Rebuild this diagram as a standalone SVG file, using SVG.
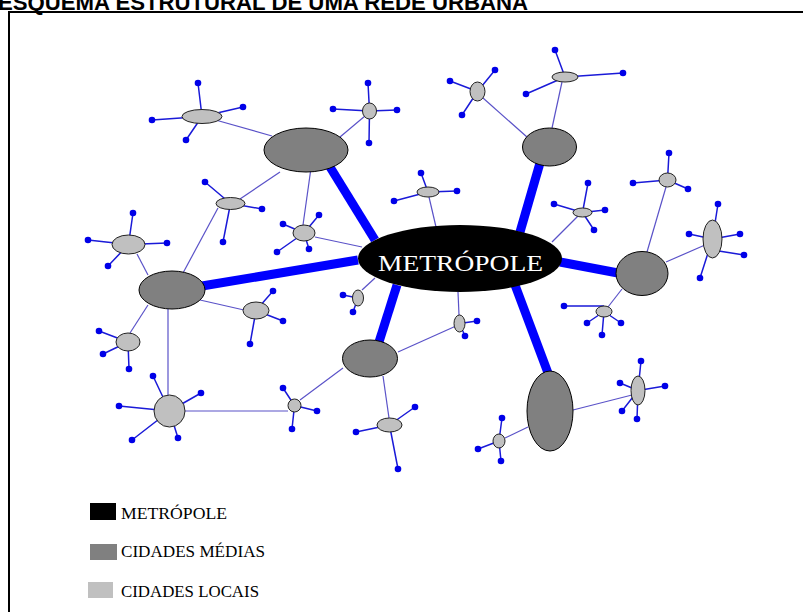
<svg xmlns="http://www.w3.org/2000/svg" width="803" height="612" viewBox="0 0 803 612">
<style>
.thick{stroke:#0000ff;stroke-width:9;fill:none}
.thin{stroke:#5a52c8;stroke-width:1.2;fill:none}
.sp{stroke:#1a1ad8;stroke-width:1.5;fill:none}
.dot{fill:#0000e8}
.med{fill:#808080;stroke:#000;stroke-width:1}
.loc{fill:#c0c0c0;stroke:#222;stroke-width:1}
.lg{font-family:"Liberation Serif","Times New Roman",serif;font-size:17px;fill:#000}
</style>
<rect width="803" height="612" fill="#fff"/>
<text x="-2" y="10" font-family="Liberation Sans, Arial, sans-serif" font-weight="bold" font-size="22" textLength="530" lengthAdjust="spacingAndGlyphs">ESQUEMA ESTRUTURAL DE UMA REDE URBANA</text>
<path d="M9,612 V12 H803" fill="none" stroke="#000" stroke-width="2"/>
<g id="connectors">
<line class="thick" x1="375" y1="240" x2="330" y2="167"/>
<line class="thick" x1="358" y1="260" x2="202" y2="286"/>
<line class="thick" x1="520" y1="232" x2="540" y2="163"/>
<line class="thick" x1="560" y1="262" x2="618" y2="273"/>
<line class="thick" x1="397" y1="285" x2="379" y2="342"/>
<line class="thick" x1="515" y1="285" x2="548" y2="373"/>
<line class="thin" x1="212" y1="119" x2="272" y2="136"/>
<line class="thin" x1="365" y1="116" x2="340" y2="137"/>
<line class="thin" x1="483" y1="98" x2="527" y2="137"/>
<line class="thin" x1="562" y1="82" x2="552" y2="128"/>
<line class="thin" x1="429" y1="197" x2="436" y2="227"/>
<line class="thin" x1="578" y1="216" x2="552" y2="242"/>
<line class="thin" x1="666" y1="187" x2="647" y2="252"/>
<line class="thin" x1="705" y1="245" x2="666" y2="262"/>
<line class="thin" x1="608" y1="307" x2="622" y2="289"/>
<line class="thin" x1="632" y1="395" x2="573" y2="410"/>
<line class="thin" x1="505" y1="438" x2="528" y2="427"/>
<line class="thin" x1="389" y1="418" x2="383" y2="376"/>
<line class="thin" x1="459" y1="315" x2="458" y2="292"/>
<line class="thin" x1="456" y1="326" x2="398" y2="352"/>
<line class="thin" x1="362" y1="290" x2="375" y2="278"/>
<line class="thin" x1="303" y1="225" x2="311" y2="168"/>
<line class="thin" x1="315" y1="237" x2="362" y2="247"/>
<line class="thin" x1="240" y1="199" x2="280" y2="172"/>
<line class="thin" x1="218" y1="208" x2="183" y2="273"/>
<line class="thin" x1="137" y1="254" x2="148" y2="275"/>
<line class="thin" x1="244" y1="310" x2="200" y2="300"/>
<line class="thin" x1="130" y1="333" x2="148" y2="305"/>
<line class="thin" x1="168" y1="395" x2="168" y2="309"/>
<line class="thin" x1="185" y1="411" x2="288" y2="411"/>
<line class="thin" x1="300" y1="400" x2="343" y2="368"/>
</g>
<g id="metropole">
<ellipse cx="460" cy="258.5" rx="102" ry="33.5" fill="#000"/>
<text x="378" y="271" font-family="Liberation Serif, Times New Roman, serif" font-size="24" fill="#fff" textLength="165" lengthAdjust="spacingAndGlyphs">METRÓPOLE</text>
</g>
<g id="media-a"><ellipse class="med" cx="306" cy="150" rx="42" ry="22"/></g>
<g id="media-b"><ellipse class="med" cx="549.5" cy="147" rx="27" ry="19"/></g>
<g id="media-c"><ellipse class="med" cx="642" cy="273.5" rx="26" ry="22"/></g>
<g id="media-d"><ellipse class="med" cx="172" cy="290" rx="33" ry="19"/></g>
<g id="media-e"><ellipse class="med" cx="370" cy="358.5" rx="27.5" ry="18.5"/></g>
<g id="media-f"><ellipse class="med" cx="550" cy="411" rx="23" ry="40"/></g>
<g id="local-1"><path class="sp" d="M202,116.5L198,83M202,116.5L243,107M202,116.5L152,120M202,116.5L186,140"/><ellipse class="loc" cx="202" cy="116.5" rx="20" ry="7"/><circle class="dot" cx="198" cy="83" r="3.3"/><circle class="dot" cx="243" cy="107" r="3.3"/><circle class="dot" cx="152" cy="120" r="3.3"/><circle class="dot" cx="186" cy="140" r="3.3"/></g>
<g id="local-2"><path class="sp" d="M369.5,111L368,83M369.5,111L397,110M369.5,111L369,143M369.5,111L333,109"/><ellipse class="loc" cx="369.5" cy="111" rx="7" ry="8"/><circle class="dot" cx="368" cy="83" r="3.3"/><circle class="dot" cx="397" cy="110" r="3.3"/><circle class="dot" cx="369" cy="143" r="3.3"/><circle class="dot" cx="333" cy="109" r="3.3"/></g>
<g id="local-3"><path class="sp" d="M477.5,91.5L450,81M477.5,91.5L495,70M477.5,91.5L462,115"/><ellipse class="loc" cx="477.5" cy="91.5" rx="7.5" ry="9.5"/><circle class="dot" cx="450" cy="81" r="3.3"/><circle class="dot" cx="495" cy="70" r="3.3"/><circle class="dot" cx="462" cy="115" r="3.3"/></g>
<g id="local-4"><path class="sp" d="M565,77L555,50M565,77L623,73M565,77L526,94"/><ellipse class="loc" cx="565" cy="77" rx="13" ry="5"/><circle class="dot" cx="555" cy="50" r="3.3"/><circle class="dot" cx="623" cy="73" r="3.3"/><circle class="dot" cx="526" cy="94" r="3.3"/></g>
<g id="local-5"><path class="sp" d="M428,192L421,173M428,192L457,191M428,192L394,201"/><ellipse class="loc" cx="428" cy="192" rx="11" ry="5"/><circle class="dot" cx="421" cy="173" r="3.3"/><circle class="dot" cx="457" cy="191" r="3.3"/><circle class="dot" cx="394" cy="201" r="3.3"/></g>
<g id="local-6"><path class="sp" d="M582.5,212.5L588,183M582.5,212.5L605,210M582.5,212.5L554,204M582.5,212.5L594,230"/><ellipse class="loc" cx="582.5" cy="212.5" rx="9.5" ry="4.5"/><circle class="dot" cx="588" cy="183" r="3.3"/><circle class="dot" cx="605" cy="210" r="3.3"/><circle class="dot" cx="554" cy="204" r="3.3"/><circle class="dot" cx="594" cy="230" r="3.3"/></g>
<g id="local-7"><path class="sp" d="M667.5,180L669,153M667.5,180L633,183M667.5,180L688,189"/><ellipse class="loc" cx="667.5" cy="180" rx="8.5" ry="7"/><circle class="dot" cx="669" cy="153" r="3.3"/><circle class="dot" cx="633" cy="183" r="3.3"/><circle class="dot" cx="688" cy="189" r="3.3"/></g>
<g id="local-8"><path class="sp" d="M712.5,239L718,204M712.5,239L689,234M712.5,239L740,234M712.5,250L744,255M712.5,239L700,278"/><ellipse class="loc" cx="712.5" cy="239" rx="9.5" ry="19"/><circle class="dot" cx="718" cy="204" r="3.3"/><circle class="dot" cx="689" cy="234" r="3.3"/><circle class="dot" cx="740" cy="234" r="3.3"/><circle class="dot" cx="744" cy="255" r="3.3"/><circle class="dot" cx="700" cy="278" r="3.3"/></g>
<g id="local-9"><path class="sp" d="M604,306L564,306M604,311.5L587,323M604,311.5L602,335M604,311.5L621,323"/><ellipse class="loc" cx="604" cy="311.5" rx="8" ry="5.5"/><circle class="dot" cx="564" cy="306" r="3.3"/><circle class="dot" cx="587" cy="323" r="3.3"/><circle class="dot" cx="602" cy="335" r="3.3"/><circle class="dot" cx="621" cy="323" r="3.3"/></g>
<g id="local-10"><path class="sp" d="M638,390.5L641,361M638,390.5L620,383M638,390.5L665,386M638,390.5L622,411M638,390.5L637,419"/><ellipse class="loc" cx="638" cy="390.5" rx="7" ry="14.5"/><circle class="dot" cx="641" cy="361" r="3.3"/><circle class="dot" cx="620" cy="383" r="3.3"/><circle class="dot" cx="665" cy="386" r="3.3"/><circle class="dot" cx="622" cy="411" r="3.3"/><circle class="dot" cx="637" cy="419" r="3.3"/></g>
<g id="local-11"><path class="sp" d="M499,441L502,418M499,441L478,449M499,441L501,461"/><ellipse class="loc" cx="499" cy="441" rx="6" ry="7"/><circle class="dot" cx="502" cy="418" r="3.3"/><circle class="dot" cx="478" cy="449" r="3.3"/><circle class="dot" cx="501" cy="461" r="3.3"/></g>
<g id="local-12"><path class="sp" d="M389.5,425L415,407M389.5,425L356,432M389.5,425L398,469"/><ellipse class="loc" cx="389.5" cy="425" rx="12.5" ry="7"/><circle class="dot" cx="415" cy="407" r="3.3"/><circle class="dot" cx="356" cy="432" r="3.3"/><circle class="dot" cx="398" cy="469" r="3.3"/></g>
<g id="local-13"><path class="sp" d="M459.5,323.5L477,321M459.5,323.5L465,336"/><ellipse class="loc" cx="459.5" cy="323.5" rx="5.5" ry="8.5"/><circle class="dot" cx="477" cy="321" r="3.3"/><circle class="dot" cx="465" cy="336" r="3.3"/></g>
<g id="local-14"><path class="sp" d="M358,298L343,295M358,298L353,312"/><ellipse class="loc" cx="358" cy="298" rx="5.5" ry="8"/><circle class="dot" cx="343" cy="295" r="3.3"/><circle class="dot" cx="353" cy="312" r="3.3"/></g>
<g id="local-15"><path class="sp" d="M304,233L283,224M304,233L319,215M304,233L277,252M304,233L309,249"/><ellipse class="loc" cx="304" cy="233" rx="11" ry="8"/><circle class="dot" cx="283" cy="224" r="3.3"/><circle class="dot" cx="319" cy="215" r="3.3"/><circle class="dot" cx="277" cy="252" r="3.3"/><circle class="dot" cx="309" cy="249" r="3.3"/></g>
<g id="local-16"><path class="sp" d="M230.5,203.5L205,182M230.5,203.5L262,209M230.5,203.5L223,242"/><ellipse class="loc" cx="230.5" cy="203.5" rx="14.5" ry="6"/><circle class="dot" cx="205" cy="182" r="3.3"/><circle class="dot" cx="262" cy="209" r="3.3"/><circle class="dot" cx="223" cy="242" r="3.3"/></g>
<g id="local-17"><path class="sp" d="M128.5,244.5L133,213M128.5,244.5L88,240M128.5,244.5L167,243M128.5,244.5L108,266"/><ellipse class="loc" cx="128.5" cy="244.5" rx="16.5" ry="9.5"/><circle class="dot" cx="133" cy="213" r="3.3"/><circle class="dot" cx="88" cy="240" r="3.3"/><circle class="dot" cx="167" cy="243" r="3.3"/><circle class="dot" cx="108" cy="266" r="3.3"/></g>
<g id="local-18"><path class="sp" d="M256,310.5L273,291M256,310.5L283,321M256,310.5L250,344"/><ellipse class="loc" cx="256" cy="310.5" rx="13" ry="8.5"/><circle class="dot" cx="273" cy="291" r="3.3"/><circle class="dot" cx="283" cy="321" r="3.3"/><circle class="dot" cx="250" cy="344" r="3.3"/></g>
<g id="local-19"><path class="sp" d="M128,342L99,331M128,342L103,354M128,342L129,369"/><ellipse class="loc" cx="128" cy="342" rx="12" ry="9"/><circle class="dot" cx="99" cy="331" r="3.3"/><circle class="dot" cx="103" cy="354" r="3.3"/><circle class="dot" cx="129" cy="369" r="3.3"/></g>
<g id="local-20"><path class="sp" d="M169.5,411L153,376M169.5,411L119,406M169.5,411L201,393M169.5,411L132,440M169.5,411L178,438"/><ellipse class="loc" cx="169.5" cy="411" rx="15.5" ry="16"/><circle class="dot" cx="153" cy="376" r="3.3"/><circle class="dot" cx="119" cy="406" r="3.3"/><circle class="dot" cx="201" cy="393" r="3.3"/><circle class="dot" cx="132" cy="440" r="3.3"/><circle class="dot" cx="178" cy="438" r="3.3"/></g>
<g id="local-21"><path class="sp" d="M294.5,405.5L283,388M294.5,405.5L317,411M294.5,405.5L292,429"/><ellipse class="loc" cx="294.5" cy="405.5" rx="6.5" ry="6.5"/><circle class="dot" cx="283" cy="388" r="3.3"/><circle class="dot" cx="317" cy="411" r="3.3"/><circle class="dot" cx="292" cy="429" r="3.3"/></g>
<g id="legend">
<rect x="90" y="503" width="26" height="17" fill="#000"/>
<text class="lg" x="121" y="519" textLength="106" lengthAdjust="spacingAndGlyphs">METRÓPOLE</text>
<rect x="90" y="544" width="27" height="16" fill="#808080"/>
<text class="lg" x="121" y="557" textLength="144" lengthAdjust="spacingAndGlyphs">CIDADES MÉDIAS</text>
<rect x="88" y="582" width="25" height="16" fill="#c0c0c0"/>
<text class="lg" x="121" y="597" textLength="138" lengthAdjust="spacingAndGlyphs">CIDADES LOCAIS</text>
</g>
</svg>
